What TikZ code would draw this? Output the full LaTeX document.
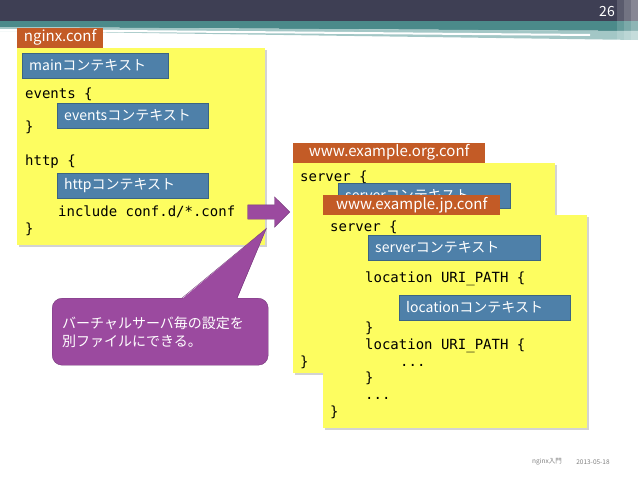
\documentclass[tikz,border=0pt]{standalone}
\usepackage{fontspec}
\setmainfont{Noto Sans CJK JP}
\setmonofont{DejaVu Sans Mono}
\usetikzlibrary{positioning,shapes.arrows,shadows}
\definecolor{headdark}{HTML}{3E3F54}
\definecolor{headteal}{HTML}{4B8A8A}
\definecolor{headlight}{HTML}{A3C7C6}
\definecolor{fileyellow}{HTML}{FDFD60}
\definecolor{tabbrown}{HTML}{C35B26}
\definecolor{ctxblue}{HTML}{4E80A9}
\definecolor{ctxedge}{HTML}{3B6483}
\definecolor{notepurple}{HTML}{9B4A9F}
\definecolor{noteedge}{HTML}{763A7B}

\begin{document}
\begin{tikzpicture}[x=1pt,y=-1pt,
  filebox/.style={fill=fileyellow, anchor=north west, inner sep=0pt, drop shadow={shadow xshift=2pt, shadow yshift=-2pt, opacity=.35}},
  tab/.style={fill=tabbrown, text=white, inner xsep=0pt, inner ysep=0pt, minimum height=20pt, font=\fontsize{15}{17}\selectfont},
  ctx/.style={fill=ctxblue, draw=ctxedge, text=white, anchor=north west, minimum height=25pt, inner xsep=7pt, inner ysep=0pt, align=left, text width=#1, font=\fontsize{14}{16}\selectfont},
  code/.style={anchor=base west, inner sep=0pt, font=\fontsize{14}{16}\ttfamily},
  bigarrow/.style={single arrow, fill=notepurple, draw=noteedge, inner xsep=0pt, inner ysep=7pt, single arrow head extend=8pt, minimum height=42pt},
  note/.style={fill=notepurple, draw=noteedge, rounded corners=10pt, text=white, anchor=north west, minimum width=216pt, minimum height=67pt, inner xsep=10pt, text width=196pt, align=left, font=\fontsize{14}{18}\selectfont}]
\useasboundingbox (0,0) rectangle (638,479);
\fill[headdark] (0,0) rectangle (638,21);
\fill[headteal] (0,21) -- (638,21) -- (638,31) -- (0,27) -- cycle;
\fill[headlight] (0,27) -- (638,31) -- (638,40) -- (0,31) -- cycle;
\draw[white, line width=2pt] (0,30) -- (590,35);
\fill[white, opacity=.15] (617,0) rectangle (638,40);
\fill[white, opacity=.15] (624,0) rectangle (638,40);
\fill[white, opacity=.15] (631,0) rectangle (638,40);
\node[text=white, font=\fontsize{14}{16}\selectfont] (pagenum) at (607,12) {26};

\node[filebox, minimum width=248pt, minimum height=197pt] (mainfile) at (17,48) {};
\node[tab, minimum width=86pt, above right=0pt and 0pt of mainfile.north west] (maintab) {nginx.conf};
\node[ctx=132pt, below right=5pt and 5pt of mainfile.north west] (mainctx) {mainコンテキスト};
\node[code] (events) at (25,98) {events \{};
\node[ctx=137pt] (eventsctx) at (57,103) {eventsコンテキスト};
\node[code] (eventsend) at (25,131) {\}};
\node[code] (http) at (25,165) {http \{};
\node[ctx=137pt] (httpctx) at (57,173) {httpコンテキスト};
\node[code] (include) at (58,216) {include conf.d/*.conf};
\node[code] (httpend) at (25,233) {\}};

\node[filebox, minimum width=262pt, minimum height=210pt] (orgfile) at (293,163) {};
\node[tab, minimum width=192pt, above right=0pt and 0pt of orgfile.north west] (orgtab) {www.example.org.conf};
\node[code] (orgserver) at (300,181) {server \{};
\node[ctx=158pt] (orgctx) at (338,183) {serverコンテキスト};
\node[code] (orgend) at (300,366) {\}};

\node[filebox, minimum width=264pt, minimum height=213pt] (jpfile) at (323,215) {};
\node[tab, minimum width=177pt, above right=0pt and 0pt of jpfile.north west] (jptab) {www.example.jp.conf};
\node[code] (jpserver) at (330,231) {server \{};
\node[ctx=158pt] (serverctx) at (368,235) {serverコンテキスト};
\node[code] (locone) at (365,282) {location URI\_PATH \{};
\node[ctx=157pt] (locctx) at (399,295) {locationコンテキスト};
\node[code] (loconeend) at (365,332) {\}};
\node[code] (loctwo) at (365,349) {location URI\_PATH \{};
\node[code] (loctwodots) at (400,366) {...};
\node[code] (loctwoend) at (365,382) {\}};
\node[code] (jpdots) at (365,399) {...};
\node[code] (jpend) at (330,416) {\}};

\node[bigarrow, anchor=tip] (incarrow) at ([xshift=-3pt]orgfile.west |- 0,212) {};

\node[note] (note) at (52,298) {バーチャルサーバ毎の設定を\\別ファイルにできる。};
\coordinate (notetip) at ([xshift=1pt, yshift=17pt]mainfile.south east);
\fill[notepurple] ([xshift=130pt, yshift=-1pt]note.north west) -- (notetip) -- ([xshift=185pt, yshift=-1pt]note.north west) -- cycle;
\draw[noteedge] ([xshift=130pt]note.north west) -- (notetip) -- ([xshift=185pt]note.north west);

\node[text=gray, font=\fontsize{6.5}{8}\selectfont] (footname) at (547,462) {nginx入門};
\node[text=gray, font=\fontsize{6.5}{8}\selectfont] (footdate) at (593,462) {2013-05-18};
\end{tikzpicture}
\end{document}
